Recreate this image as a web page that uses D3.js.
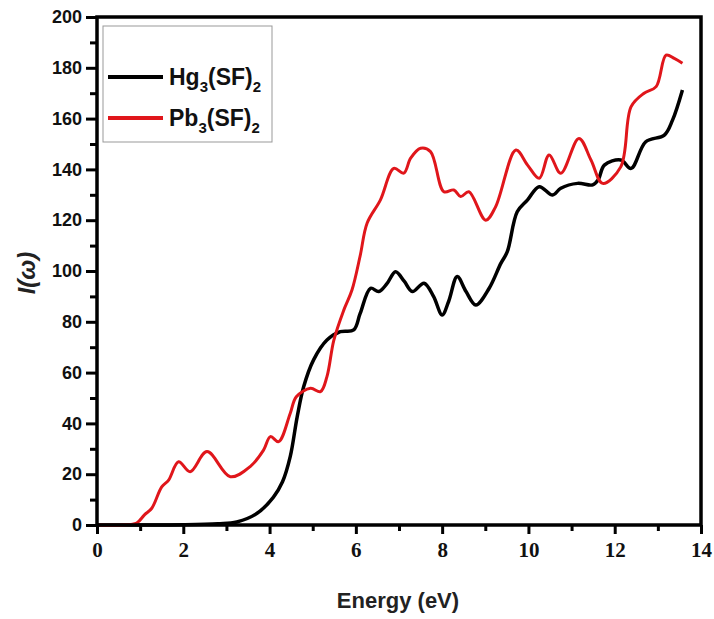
<!DOCTYPE html>
<html>
<head>
<meta charset="utf-8">
<script src="https://cdn.jsdelivr.net/npm/d3@7/dist/d3.min.js"></script>
<style>
  body { margin: 0; background: #fff; }
  svg { display: block; }
</style>
</head>
<body>
<svg></svg>
<script>
// Data
const energy_hg = [0, 1, 2, 2.8, 3.24, 3.71, 4.09, 4.3, 4.48, 4.64, 4.79, 5.02, 5.33, 5.64, 5.95, 6.1, 6.34, 6.53, 6.72, 6.92, 7.12, 7.31, 7.58, 7.8, 8.0, 8.15, 8.35, 8.55, 8.78, 9.09, 9.36, 9.51, 9.74, 9.98, 10.25, 10.56, 10.75, 11.14, 11.49, 11.62, 11.76, 12.14, 12.38, 12.72, 13.15, 13.34, 13.57];
const hg_values = [0, 0, 0.1, 0.5, 1.2, 4.6, 11, 17, 27, 42.6, 54.4, 65, 72.8, 76.1, 76.8, 83.3, 93.2, 91.9, 95, 99.7, 96, 91.9, 95.2, 90, 82.7, 88, 97.8, 92, 86.6, 93.2, 103, 107.6, 123.3, 128, 133.2, 129.9, 132.6, 134.5, 133.9, 136, 141.7, 143.7, 140.4, 150.9, 153.5, 159.4, 171.3];

const energy_pb = [0, 0.6, 0.92, 1.1, 1.27, 1.5, 1.66, 1.89, 2.16, 2.55, 3.09, 3.55, 3.86, 4.02, 4.21, 4.48, 4.62, 4.95, 5.18, 5.33, 5.49, 5.72, 5.91, 6.1, 6.26, 6.57, 6.88, 7.11, 7.27, 7.5, 7.73, 8.04, 8.27, 8.43, 8.62, 9.01, 9.24, 9.71, 9.98, 10.25, 10.48, 10.75, 11.17, 11.45, 11.72, 12.14, 12.38, 12.68, 12.96, 13.19, 13.38, 13.57];
const pb_values = [0, 0, 0.8, 4, 6.6, 15, 17.7, 24.9, 21, 28.9, 19, 23, 29.5, 34.8, 32.8, 44, 50.5, 53.8, 52.5, 58.4, 72.8, 84.6, 92.5, 106, 118.8, 128, 140.4, 138.5, 144.4, 148.3, 147, 131.2, 131.9, 129.3, 131.2, 120, 125.3, 147.6, 141.7, 136.5, 145.7, 138.5, 152.2, 143.7, 134.5, 141, 164.7, 170, 172.6, 185, 183.7, 181.8];

const xTicks = [0, 2, 4, 6, 8, 10, 12, 14];
const yTicks = [0, 20, 40, 60, 80, 100, 120, 140, 160, 180, 200];

const series = [
  { name: "Hg", x: energy_hg, y: hg_values, color: "#000000", width: 3.5 },
  { name: "Pb", x: energy_pb, y: pb_values, color: "#e0161b", width: 3 }
];

const w = 714;
const h = 619;
const margin = { top: 17, bottom: 94, left: 97, right: 13 };
const chartW = w - margin.left - margin.right;
const chartH = h - margin.top - margin.bottom;

const svg = d3.select("svg").attr("width", w).attr("height", h);

const chart = svg.append("g")
  .attr("transform", `translate(${margin.left}, ${margin.top})`);

const xScale = d3.scaleLinear().domain([0, 14]).range([0, chartW]);
const yScale = d3.scaleLinear().domain([0, 200]).range([chartH, 0]);

// curves
const line = d3.line()
  .x(d => xScale(d[0]))
  .y(d => yScale(d[1]))
  .curve(d3.curveCatmullRom.alpha(0.5));

series.forEach(s => {
  chart.append("path")
    .datum(s.x.map((v, i) => [v, s.y[i]]))
    .attr("fill", "none")
    .attr("stroke", s.color)
    .attr("stroke-width", s.width)
    .attr("stroke-linejoin", "round")
    .attr("d", line);
});

// minor ticks
const xMinor = chart.append("g")
  .attr("transform", `translate(0, ${chartH})`)
  .call(d3.axisBottom(xScale).tickValues(d3.range(1, 14, 2)).tickSize(6).tickFormat(""));
xMinor.select(".domain").remove();

const xMajor = chart.append("g")
  .attr("transform", `translate(0, ${chartH})`)
  .call(d3.axisBottom(xScale).tickValues(xTicks).tickSize(9).tickPadding(8).tickFormat(d3.format("d")));
xMajor.select(".domain").remove();
xMajor.selectAll("text")
  .attr("font-family", "'Liberation Serif', 'Times New Roman', serif")
  .style("font-family", "'Liberation Serif', 'Times New Roman', serif")
  .style("font-weight", "bold")
  .style("font-size", "21px")
  .attr("fill", "#111");

const yMinor = chart.append("g")
  .call(d3.axisLeft(yScale).tickValues(d3.range(10, 200, 20)).tickSize(7).tickFormat(""));
yMinor.select(".domain").remove();

const yMajor = chart.append("g")
  .call(d3.axisLeft(yScale).tickValues(yTicks).tickSize(11).tickPadding(4));
yMajor.select(".domain").remove();
yMajor.selectAll("text")
  .style("font-family", "'Liberation Sans', Arial, sans-serif")
  .style("font-weight", "bold")
  .style("font-size", "18px")
  .attr("fill", "#111");

chart.selectAll(".tick line").attr("stroke", "#000").attr("stroke-width", 3);

// frame
chart.append("rect")
  .attr("width", chartW)
  .attr("height", chartH)
  .attr("fill", "none")
  .attr("stroke", "#000")
  .attr("stroke-width", 3.5);

// legend
const legend = svg.append("g");
legend.append("rect")
  .attr("x", 103).attr("y", 26)
  .attr("width", 169).attr("height", 116)
  .attr("fill", "#fff")
  .attr("stroke", "#999")
  .attr("stroke-width", 1);

const legendItems = [
  { base: "Hg", color: "#000000" },
  { base: "Pb", color: "#e0161b" }
];
legendItems.forEach((d, i) => {
  const yy = 77 + i * 41;
  legend.append("line")
    .attr("x1", 108).attr("x2", 163)
    .attr("y1", yy).attr("y2", yy)
    .attr("stroke", d.color)
    .attr("stroke-width", 4);
  const t = legend.append("text")
    .attr("x", 169).attr("y", yy + 8)
    .style("font-family", "'Liberation Sans', Arial, sans-serif")
    .style("font-weight", "bold")
    .style("font-size", "23px")
    .attr("fill", "#111");
  t.append("tspan").text(d.base);
  t.append("tspan").attr("dy", 7).style("font-size", "15px").text("3");
  t.append("tspan").attr("dy", -7).text("(SF)");
  t.append("tspan").attr("dy", 7).style("font-size", "15px").text("2");
});

// axis titles
svg.append("text")
  .attr("x", 398)
  .attr("y", 608)
  .attr("text-anchor", "middle")
  .style("font-family", "'Liberation Sans', Arial, sans-serif")
  .style("font-weight", "bold")
  .style("font-size", "22px")
  .attr("fill", "#222")
  .text("Energy (eV)");

svg.append("text")
  .attr("transform", "translate(35, 273) rotate(-90)")
  .attr("text-anchor", "middle")
  .style("font-family", "'Liberation Sans', Arial, sans-serif")
  .style("font-weight", "bold")
  .style("font-style", "italic")
  .style("font-size", "24px")
  .attr("fill", "#222")
  .text("I(ω)");
</script>
</body>
</html>
